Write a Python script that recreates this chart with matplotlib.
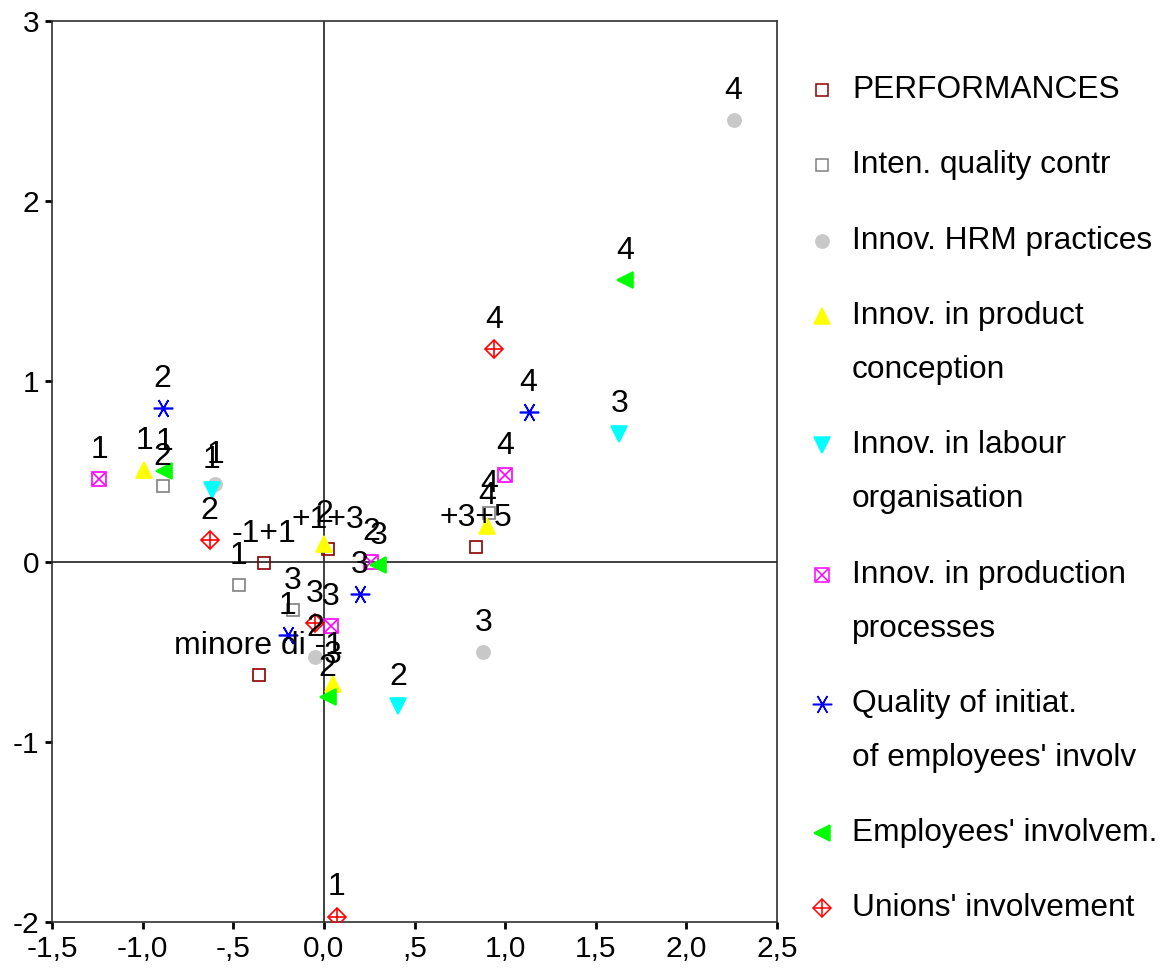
import matplotlib
matplotlib.use("Agg")
import matplotlib.pyplot as plt
from matplotlib.lines import Line2D

plt.rcParams['font.family'] = ['Liberation Sans', 'DejaVu Sans']

# category coordinates
perf_x = [-0.36, -0.33, 0.02, 0.84]
perf_y = [-0.63, -0.01, 0.07, 0.08]
perf_lab = ["minore di -1", "-1+1", "+1+3", "+3+5"]

qual_x = [-0.47, -0.89, -0.17, 0.91]
qual_y = [-0.13, 0.42, -0.27, 0.27]
qual_lab = ["1", "2", "3", "4"]

hrm_x = [-0.60, -0.05, 0.88, 2.26]
hrm_y = [0.43, -0.53, -0.50, 2.45]
hrm_lab = ["1", "2", "3", "4"]

prod_x = [-0.99, 0.00, 0.05, 0.90]
prod_y = [0.51, 0.10, -0.68, 0.20]
prod_lab = ["1", "2", "3", "4"]

labour_x = [-0.62, 0.41, 1.63]
labour_y = [0.40, -0.80, 0.71]
labour_lab = ["1", "2", "3"]

proc_x = [-1.24, 0.26, 0.04, 1.00]
proc_y = [0.46, 0.00, -0.36, 0.48]
proc_lab = ["1", "2", "3", "4"]

init_x = [-0.20, -0.89, 0.20, 1.13]
init_y = [-0.41, 0.85, -0.18, 0.83]
init_lab = ["1", "2", "3", "4"]

empl_x = [-0.88, 0.02, 0.30, 1.66]
empl_y = [0.50, -0.75, -0.02, 1.56]
empl_lab = ["1", "2", "3", "4"]

union_x = [0.07, -0.63, -0.05, 0.94]
union_y = [-1.97, 0.12, -0.34, 1.18]
union_lab = ["1", "2", "3", "4"]

x_ticks = [-1.5, -1.0, -0.5, 0.0, 0.5, 1.0, 1.5, 2.0, 2.5]
x_tick_labels = ["-1,5", "-1,0", "-,5", "0,0", ",5", "1,0", "1,5", "2,0", "2,5"]
y_ticks = [-2, -1, 0, 1, 2, 3]
y_tick_labels = ["-2", "-1", "0", "1", "2", "3"]

# each series: name lines, data, list of marker layers (marker, size, face, edge)
series = [
    (["PERFORMANCES"], perf_x, perf_y, perf_lab,
     [("s", 8, "none", "#8b0000")]),
    (["Inten. quality contr"], qual_x, qual_y, qual_lab,
     [("s", 8, "none", "#808080")]),
    (["Innov. HRM practices"], hrm_x, hrm_y, hrm_lab,
     [("o", 9.5, "#c8c8c8", "#c8c8c8")]),
    (["Innov. in product", "conception"], prod_x, prod_y, prod_lab,
     [("^", 11, "#ffff00", "#ffff00")]),
    (["Innov. in labour", "organisation"], labour_x, labour_y, labour_lab,
     [("v", 11, "#00ffff", "#00ffff")]),
    (["Innov. in production", "processes"], proc_x, proc_y, proc_lab,
     [("s", 10, "none", "#ff00ff"), ("x", 9, "none", "#ff00ff")]),
    (["Quality of initiat.", "of employees' involv"], init_x, init_y, init_lab,
     [((6, 2, 90), 14, "none", "#0000ff")]),
    (["Employees' involvem."], empl_x, empl_y, empl_lab,
     [("<", 11, "#00ff00", "#00ff00")]),
    (["Unions' involvement"], union_x, union_y, union_lab,
     [("D", 9.5, "none", "#ff0000"), ("+", 13, "none", "#ff0000")]),
]

fig = plt.figure(figsize=(11.67, 9.72), dpi=100)
W, H = 1167, 972
ax = fig.add_axes([52 / W, 1 - 922 / H, (777 - 52) / W, (922 - 21) / H])

ax.axvline(0, color="#303030", lw=1.3, zorder=1)
ax.axhline(0, color="#303030", lw=1.3, zorder=1)

for names, xs, ys, labs, layers in series:
    for mk, ms, fc, ec in layers:
        ax.plot(xs, ys, ls="none", marker=mk, ms=ms, mfc=fc, mec=ec,
                mew=1.2, zorder=3)
    for x, y, t in zip(xs, ys, labs):
        ax.annotate(t, (x, y), xytext=(0, 21), textcoords="offset points",
                    ha="center", va="center", fontsize=23, color="black",
                    zorder=4)

ax.set_xlim(-1.5, 2.5)
ax.set_ylim(-2, 3)
ax.set_xticks(x_ticks)
ax.set_xticklabels(x_tick_labels)
ax.set_yticks(y_ticks)
ax.set_yticklabels(y_tick_labels)
ax.tick_params(direction="out", length=5, width=2, labelsize=21.5, pad=4)
for sp in ax.spines.values():
    sp.set_color("#303030")
    sp.set_linewidth(1.2)

# legend drawn by hand to keep the marker on the first line
y_px = 90
for names, xs, ys, labs, layers in series:
    for mk, ms, fc, ec in layers:
        fig.add_artist(Line2D([822 / W], [1 - y_px / H], ls="none", marker=mk,
                              ms=ms, mfc=fc, mec=ec, mew=1.1,
                              transform=fig.transFigure))
    for i, line in enumerate(names):
        fig.text(852 / W, 1 - (y_px + i * 54) / H, line, fontsize=22.8,
                 va="center", ha="left")
    y_px += 75.3 + 54 * (len(names) - 1)

fig.savefig("out.png", dpi=100)
